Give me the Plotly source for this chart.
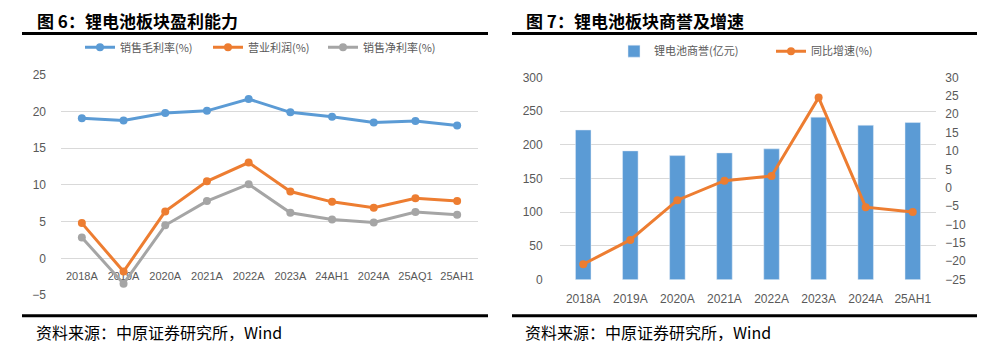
import plotly.graph_objects as go

W, H = 994, 351

# ---- data: left chart (profitability, %) ----
cats_l = ["2018A", "2019A", "2020A", "2021A", "2022A", "2023A", "24AH1", "2024A", "25AQ1", "25AH1"]
gross_margin = [19.1, 18.8, 19.8, 20.1, 21.7, 19.9, 19.3, 18.5, 18.7, 18.1]
op_margin = [4.8, -1.8, 6.4, 10.5, 13.05, 9.1, 7.7, 6.9, 8.2, 7.8]
net_margin = [2.85, -3.45, 4.5, 7.8, 10.1, 6.2, 5.3, 4.9, 6.3, 5.95]

# ---- data: right chart (goodwill, 亿元 / yoy %) ----
cats_r = ["2018A", "2019A", "2020A", "2021A", "2022A", "2023A", "2024A", "25AH1"]
goodwill = [222, 191, 184, 188, 194, 241, 229, 233]
growth = [-20.8, -14.2, -3.4, 1.9, 3.2, 24.5, -5.3, -6.6]

BLUE, ORANGE, GRAY = "#5B9BD5", "#ED7D31", "#A5A5A5"
GRID = "#D9D9D9"
TICK = "#595959"
CJK = "Noto Sans CJK SC"
NUM = "Liberation Sans, Noto Sans CJK SC"


def px(x):
    return x / W


def py(y):
    return 1 - y / H


fig = go.Figure()

# left chart traces (each in its own legend box for exact placement)
for name, vals, col, lg in [("销售毛利率(%)", gross_margin, BLUE, "legend"),
                            ("营业利润(%)", op_margin, ORANGE, "legend3"),
                            ("销售净利率(%)", net_margin, GRAY, "legend4")]:
    fig.add_trace(go.Scatter(x=cats_l, y=vals, name=name, mode="lines+markers",
                             line=dict(color=col, width=3), marker=dict(color=col, size=8),
                             xaxis="x", yaxis="y", legend=lg))

# right chart traces
fig.add_trace(go.Bar(x=cats_r, y=goodwill, name="锂电池商誉(亿元)", marker_color=BLUE,
                     xaxis="x2", yaxis="y2", legend="legend2"))
fig.add_trace(go.Scatter(x=cats_r, y=growth, name="同比增速(%)", mode="lines+markers",
                         line=dict(color=ORANGE, width=3), marker=dict(color=ORANGE, size=8),
                         xaxis="x2", yaxis="y3", legend="legend5"))

yl_dom = [py(300), py(70.7)]
yl_rng = [-5, 25]
zero_pos = yl_dom[0] + (0 - yl_rng[0]) / (yl_rng[1] - yl_rng[0]) * (yl_dom[1] - yl_dom[0])

yr_dom = [py(284), py(73.3)]

tickfont = dict(family=NUM, size=12, color=TICK)
legfont = dict(family=CJK, size=11, color=TICK)


def leg(xpix, ypix):
    return dict(orientation="h", x=px(xpix), xanchor="left", y=py(ypix), yanchor="middle",
                font=legfont, bgcolor="rgba(0,0,0,0)", itemwidth=30)


fig.update_layout(
    width=W, height=H, margin=dict(l=0, r=0, t=0, b=0),
    paper_bgcolor="white", plot_bgcolor="white",
    bargap=0.67,
    xaxis=dict(domain=[px(61), px(478)], range=[-0.5, 9.5], anchor="free", position=zero_pos,
               showgrid=False, showline=False, ticks="", tickfont=dict(family=NUM, size=11, color=TICK),
               ticklabelstandoff=10, layer="below traces", fixedrange=True),
    yaxis=dict(domain=yl_dom, range=yl_rng, dtick=5, showgrid=True, gridcolor=GRID, gridwidth=1,
               zeroline=False, showline=False, ticks="", tickfont=tickfont, ticklabelstandoff=14,
               anchor="x"),
    xaxis2=dict(domain=[px(559.7), px(936.3)], range=[-0.5, 7.5], anchor="y2", showgrid=False,
                showline=False, ticks="", tickfont=dict(family=NUM, size=12, color=TICK),
                ticklabelstandoff=10),
    yaxis2=dict(domain=yr_dom, range=[0, 300], dtick=50, showgrid=True, gridcolor=GRID, gridwidth=1,
                zeroline=False, showline=False, ticks="", tickfont=tickfont, ticklabelstandoff=16,
                anchor="x2"),
    yaxis3=dict(domain=yr_dom, range=[-25, 30], dtick=5, overlaying="y2", side="right", anchor="x2",
                showgrid=False, zeroline=False, showline=False, ticks="", tickfont=tickfont,
                ticklabelstandoff=8),
    legend=leg(80, 42),
    legend3=leg(208, 42),
    legend4=leg(323, 42),
    legend2=leg(614, 46),
    legend5=leg(771, 46),
    showlegend=True,
)

# titles, rules and sources
shapes = []
for x0, x1 in [(22, 488), (512, 977)]:
    shapes.append(dict(type="line", xref="paper", yref="paper", x0=px(x0), x1=px(x1),
                       y0=py(27.5), y1=py(27.5), line=dict(color="black", width=3)))
    shapes.append(dict(type="line", xref="paper", yref="paper", x0=px(x0), x1=px(x1),
                       y0=py(321.7), y1=py(321.7), line=dict(color="black", width=3)))
fig.update_layout(shapes=shapes)

annotations = [
    dict(text="<b>图 6：锂电池板块盈利能力</b>", x=px(35), y=py(14)),
    dict(text="<b>图 7：锂电池板块商誉及增速</b>", x=px(524), y=py(14)),
    dict(text="资料来源：中原证券研究所，Wind", x=px(34), y=py(338)),
    dict(text="资料来源：中原证券研究所，Wind", x=px(523), y=py(338)),
]
for a in annotations:
    a.update(xref="paper", yref="paper", xanchor="left", yanchor="middle", showarrow=False,
             font=dict(family=CJK, size=17 if "图" in a["text"] else 16, color="black"))
fig.update_layout(annotations=annotations)

fig.write_html("out.html")
